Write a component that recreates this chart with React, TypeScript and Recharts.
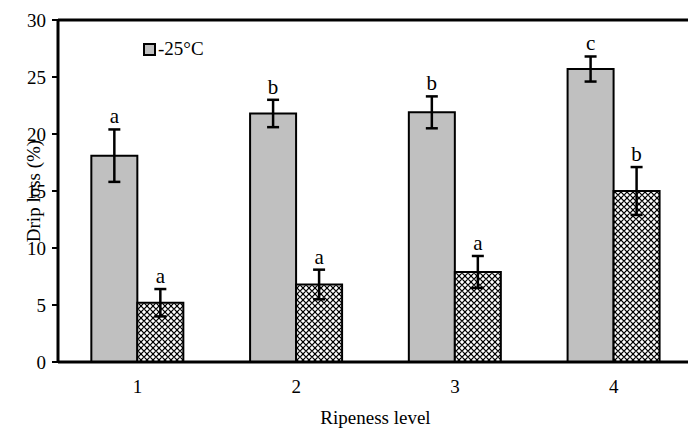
import React from "react";
import {
  BarChart,
  Bar,
  XAxis,
  YAxis,
  ErrorBar,
  LabelList,
  Legend,
  ReferenceLine,
} from "recharts";

const levels = ["1", "2", "3", "4"];
const minus25 = [18.1, 21.8, 21.9, 25.7];
const minus25Err = [2.3, 1.2, 1.4, 1.1];
const minus25Letters = ["a", "b", "b", "c"];
const other = [5.2, 6.8, 7.9, 15.0];
const otherErr = [1.2, 1.3, 1.4, 2.1];
const otherLetters = ["a", "a", "a", "b"];
const yTicks = [0, 5, 10, 15, 20, 25, 30];

const FONT = "'Liberation Serif', 'Times New Roman', serif";

const data = levels.map((level, i) => ({
  level,
  m25: minus25[i],
  m25Err: minus25Err[i],
  m25Letter: minus25Letters[i],
  oth: other[i],
  othErr: otherErr[i],
  othLetter: otherLetters[i],
}));

// letter sits just above the top of the error bar
function letterContent(values: number[], errs: number[], letters: string[]) {
  return (props: any) => {
    const { x, y, width, height, index } = props;
    const v = values[index];
    const px = v ? height / v : 0;
    const top = y - errs[index] * px;
    return (
      <text
        x={x + width / 2}
        y={top - 6}
        textAnchor="middle"
        fontFamily={FONT}
        fontSize={21}
        fill="#000"
      >
        {letters[index]}
      </text>
    );
  };
}

function LegendBox() {
  return (
    <div style={{ display: "flex", alignItems: "center", fontFamily: FONT, fontSize: 19, color: "#000" }}>
      <span
        style={{
          display: "inline-block",
          width: 9,
          height: 9,
          background: "#c0c0c0",
          border: "2px solid #000",
          marginRight: 2,
        }}
      />
      <span>-25°C</span>
    </div>
  );
}

export default function App() {
  return (
    <div
      style={{
        position: "fixed",
        left: 0,
        top: 0,
        width: 688,
        height: 430,
        overflow: "hidden",
        background: "#fff",
      }}
    >
      <BarChart
        width={700}
        height={430}
        data={data}
        margin={{ top: 20, right: 7, bottom: 0, left: 0 }}
        barCategoryGap="21%"
        barGap={0}
      >
        <defs>
          <pattern id="checker" width="6" height="6" patternUnits="userSpaceOnUse">
            <rect width="6" height="6" fill="#fff" />
            <path d="M0 3 L3 0 L6 3 L3 6 Z" fill="none" stroke="#000" strokeWidth={1.2} />
          </pattern>
        </defs>
        <XAxis
          dataKey="level"
          height={68}
          tickLine={false}
          tickSize={0}
          tickMargin={18}
          axisLine={{ stroke: "#000", strokeWidth: 3 }}
          tick={{ fill: "#000", fontFamily: FONT, fontSize: 19 }}
          label={{
            value: "Ripeness level",
            position: "insideBottom",
            offset: 6,
            fill: "#000",
            fontFamily: FONT,
            fontSize: 19,
          }}
        />
        <YAxis
          width={58}
          domain={[0, 30]}
          ticks={yTicks}
          interval={0}
          tickSize={6}
          tickMargin={6}
          axisLine={{ stroke: "#000", strokeWidth: 3 }}
          tickLine={{ stroke: "#000", strokeWidth: 2 }}
          tick={{ fill: "#000", fontFamily: FONT, fontSize: 19 }}
          label={{
            content: (p: any) => {
              const vb = p.viewBox || { x: 0, y: 0, width: 0, height: 0 };
              const cx = vb.x + 33;
              const cy = vb.y + vb.height / 2;
              return (
                <text
                  x={cx}
                  y={cy}
                  transform={`rotate(-90 ${cx} ${cy})`}
                  textAnchor="middle"
                  dominantBaseline="central"
                  fontFamily={FONT}
                  fontSize={19}
                  fill="#000"
                >
                  Drip loss (%)
                </text>
              );
            },
          }}
        />
        <ReferenceLine y={30} stroke="#000" strokeWidth={3} />
        <Legend
          layout="horizontal"
          verticalAlign="middle"
          align="center"
          content={() => <LegendBox />}
          wrapperStyle={{ position: "absolute", left: 143, top: 38, width: 120, height: 24 }}
        />
        <Bar
          dataKey="m25"
          name="-25°C"
          fill="#c0c0c0"
          stroke="#000"
          strokeWidth={2}
          isAnimationActive={false}
        >
          <ErrorBar dataKey="m25Err" width={6} stroke="#000" strokeWidth={2.5} />
          <LabelList dataKey="m25Letter" content={letterContent(minus25, minus25Err, minus25Letters)} />
        </Bar>
        <Bar
          dataKey="oth"
          name="other"
          fill="url(#checker)"
          stroke="#000"
          strokeWidth={2}
          isAnimationActive={false}
        >
          <ErrorBar dataKey="othErr" width={6} stroke="#000" strokeWidth={2.5} />
          <LabelList dataKey="othLetter" content={letterContent(other, otherErr, otherLetters)} />
        </Bar>
      </BarChart>
    </div>
  );
}
